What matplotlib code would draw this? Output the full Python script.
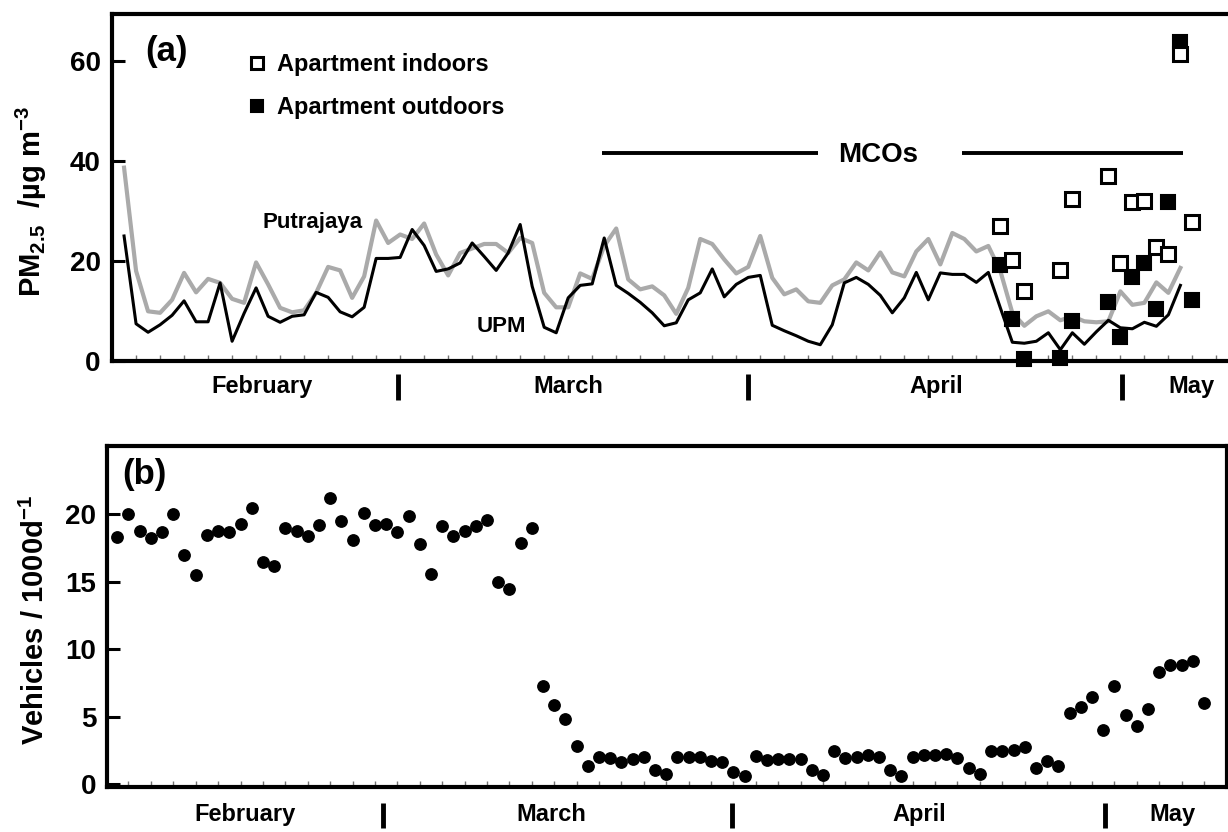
import matplotlib
matplotlib.use("Agg")
import matplotlib.pyplot as plt
import numpy as np

plt.rcParams['font.family'] = ['Liberation Sans', 'DejaVu Sans']
plt.rcParams['font.weight'] = 'bold'
plt.rcParams['mathtext.fontset'] = 'custom'
plt.rcParams['mathtext.rm'] = 'Liberation Sans:bold'
plt.rcParams['mathtext.it'] = 'Liberation Sans:bold'
plt.rcParams['mathtext.bf'] = 'Liberation Sans:bold'
plt.rcParams['mathtext.default'] = 'rm'

# ---- panel (a): daily PM2.5, day index 0 = first day shown ----
upm = [25.0, 7.4, 5.7, 7.2, 9.1, 12.0, 7.8, 7.8, 15.6, 3.9,
       9.5, 14.6, 8.9, 7.7, 8.9, 9.2, 13.7, 12.7, 9.8, 8.8,
       10.7, 20.5, 20.5, 20.7, 26.3, 23.1, 17.9, 18.4, 19.6, 23.6,
       20.9, 18.1, 21.6, 27.3, 14.9, 6.7, 5.6, 12.6, 15.1, 15.4,
       24.6, 15.1, 13.5, 11.7, 9.6, 7.0, 7.6, 12.2, 13.6, 18.4,
       12.8, 15.3, 16.7, 17.1, 7.1, 6.0, 5.0, 3.9, 3.2, 7.2,
       15.6, 16.7, 15.3, 13.1, 9.6, 12.6, 17.7, 12.2, 17.6, 17.3,
       17.3, 15.7, 17.7, 10.6, 3.7, 3.5, 3.9, 5.6, 2.2, 5.6,
       3.3, 5.8, 8.1, 6.6, 6.4, 7.7, 6.9, 9.2, 15.1]
putrajaya = [38.7, 18.0, 9.9, 9.6, 12.2, 17.6, 13.7, 16.4, 15.6, 12.4,
             11.6, 19.7, 15.3, 10.6, 9.7, 10.1, 13.6, 18.8, 18.1, 12.6,
             16.9, 28.1, 23.6, 25.3, 24.4, 27.5, 21.3, 17.1, 21.6, 22.5,
             23.4, 23.4, 21.6, 24.6, 23.6, 13.6, 10.7, 10.7, 17.5, 16.4,
             23.0, 26.5, 16.3, 14.3, 14.9, 13.1, 9.4, 14.6, 24.4, 23.4,
             20.3, 17.5, 18.8, 25.0, 16.6, 13.3, 14.3, 11.9, 11.6, 15.1,
             16.3, 19.7, 18.1, 21.7, 17.7, 16.9, 21.9, 24.4, 19.3, 25.6,
             24.4, 21.9, 23.0, 18.0, 9.6, 7.0, 8.9, 9.9, 8.1, 8.9,
             7.9, 7.7, 7.9, 13.9, 11.2, 11.6, 15.7, 13.6, 18.6]
apt_days = [73, 74, 75, 78, 79, 82, 83, 84, 85, 86, 87, 88, 89]
apt_indoor = [27.1, 20.2, 13.9, 18.2, 32.4, 37.0, 19.5, 31.8, 32.0, 22.7, 21.3, 61.4, 27.8]
apt_outdoor = [19.1, 8.4, 0.3, 0.5, 7.9, 11.8, 4.8, 16.7, 19.6, 10.4, 31.8, 63.9, 12.2]

months = ['February', 'March', 'April', 'May']
month_mid_a = [11.5, 37.0, 67.7, 88.9]
month_sep_a = [22.8, 52.0, 83.1]
mco_a = (39.8, 88.25)

# ---- panel (b): daily vehicle counts ----
vehicles = [18.3, 20.0, 18.8, 18.25, 18.7, 20.0, 17.0, 15.5, 18.5, 18.8,
            18.7, 19.3, 20.5, 16.5, 16.2, 19.0, 18.8, 18.4, 19.2, 21.2,
            19.5, 18.1, 20.1, 19.2, 19.3, 18.7, 19.9, 17.8, 15.6, 19.1,
            18.4, 18.8, 19.1, 19.6, 15.0, 14.5, 17.9, 19.0, 7.3, 5.85,
            4.8, 2.8, 1.33, 2.05, 1.95, 1.65, 1.9, 2.0, 1.08, 0.77,
            2.05, 2.0, 2.0, 1.75, 1.63, 0.9, 0.6, 2.07, 1.8, 1.85,
            1.9, 1.85, 1.08, 0.67, 2.44, 1.95, 2.0, 2.15, 2.05, 1.04,
            0.62, 2.05, 2.15, 2.2, 2.25, 1.95, 1.18, 0.77, 2.5, 2.5,
            2.55, 2.77, 1.2, 1.75, 1.38, 5.3, 5.7, 6.5, 4.0, 7.3,
            5.16, 4.35, 5.55, 8.35, 8.8, 8.85, 9.1, 6.05]
month_mid_b = [11.4, 38.7, 71.6, 94.2]
month_sep_b = [23.7, 54.9, 88.2]

W, H = 1228, 832
fig = plt.figure(figsize=(W / 100, H / 100), dpi=100)

def px_axes(l, t, r, b):
    return fig.add_axes([l / W, 1 - b / H, (r - l) / W, (b - t) / H])

ax1 = px_axes(111.7, 14, 1232, 360.7)
ax2 = px_axes(107.3, 446, 1226.7, 786.7)

for ax in (ax1, ax2):
    for s in ax.spines.values():
        s.set_linewidth(3)
    ax.tick_params(axis='y', direction='in', length=9.5, width=2.2,
                   labelsize=20, pad=8)
    ax.tick_params(axis='x', which='minor', direction='in', length=4,
                   width=1, color='0.45')
    ax.tick_params(axis='x', which='major', length=0)
    ax.set_xticks([])

# panel (a)
days = np.arange(len(upm))
ax1.plot(days, putrajaya, color='#aaaaaa', lw=3.0, zorder=2)
ax1.plot(days, upm, color='black', lw=2.2, zorder=3)
h_out, = ax1.plot(apt_days, apt_outdoor, ls='none', marker='s', ms=10.5,
                  mfc='black', mec='black', mew=1.5, zorder=4, clip_on=False)
h_in, = ax1.plot(apt_days, apt_indoor, ls='none', marker='s', ms=10.5,
                 mfc='white', mec='black', mew=2.2, zorder=5, clip_on=False)
ax1.set_xlim(-1.03, 92.3)
ax1.set_ylim(0, 69.5)
ax1.set_yticks([0, 20, 40, 60])
ax1.set_xticks(np.arange(1, 92, 2), minor=True)
ax1.spines['right'].set_visible(False)
ax1.set_ylabel('PM$_{2.5}$  /µg m$^{-3}$', fontsize=21, fontweight='bold')
ax1.yaxis.set_label_coords(-0.056, 0.46)

ax1.legend([h_in, h_out], ['Apartment indoors', 'Apartment outdoors'],
           loc='upper left', bbox_to_anchor=(0.11, 0.922), frameon=False,
           fontsize=17, handlelength=0.9, handletextpad=0.4,
           labelspacing=0.85, borderpad=0, markerscale=0.85)

ax1.text(0.030, 0.893, '(a)', transform=ax1.transAxes, fontsize=25,
         fontweight='bold', va='center', ha='left')
ax1.text(15.7, 27.8, 'Putrajaya', fontsize=16, fontweight='bold',
         ha='center', va='center')
ax1.text(31.4, 6.8, 'UPM', fontsize=16, fontweight='bold',
         ha='center', va='center')
ax1.hlines(41.7, mco_a[0], 57.8, color='black', lw=2.8)
ax1.hlines(41.7, 69.8, mco_a[1], color='black', lw=2.8)
ax1.text(62.8, 41.3, 'MCOs', fontsize=20, fontweight='bold',
         ha='center', va='center')

# panel (b)
idx = np.arange(len(vehicles))
ax2.plot(idx, vehicles, ls='none', marker='o', ms=8.2, color='black',
         zorder=3, clip_on=False)
ax2.set_xlim(-0.89, 99.03)
ax2.set_ylim(-0.18, 25.06)
ax2.set_yticks([0, 5, 10, 15, 20])
ax2.set_xticks(np.arange(1, 99, 2), minor=True)
ax2.set_ylabel('Vehicles / 1000d$^{-1}$', fontsize=21, fontweight='bold')
ax2.yaxis.set_label_coords(-0.051, 0.49)
ax2.text(0.013, 0.915, '(b)', transform=ax2.transAxes, fontsize=25,
         fontweight='bold', va='center', ha='left')

# month labels and separators under each panel
for ax, mids, seps, ylab, ysep in ((ax1, month_mid_a, month_sep_a, -0.073, (-0.038, -0.113)),
                                   (ax2, month_mid_b, month_sep_b, -0.083, (-0.048, -0.121))):
    tr = ax.get_xaxis_transform()
    for m, x in zip(months, mids):
        ax.text(x, ylab, m, transform=tr, fontsize=17, fontweight='bold',
                ha='center', va='center')
    for x in seps:
        ax.plot([x, x], ysep, transform=tr, color='black', lw=3.5,
                clip_on=False, solid_capstyle='butt')

fig.savefig('out.png', dpi=100)
